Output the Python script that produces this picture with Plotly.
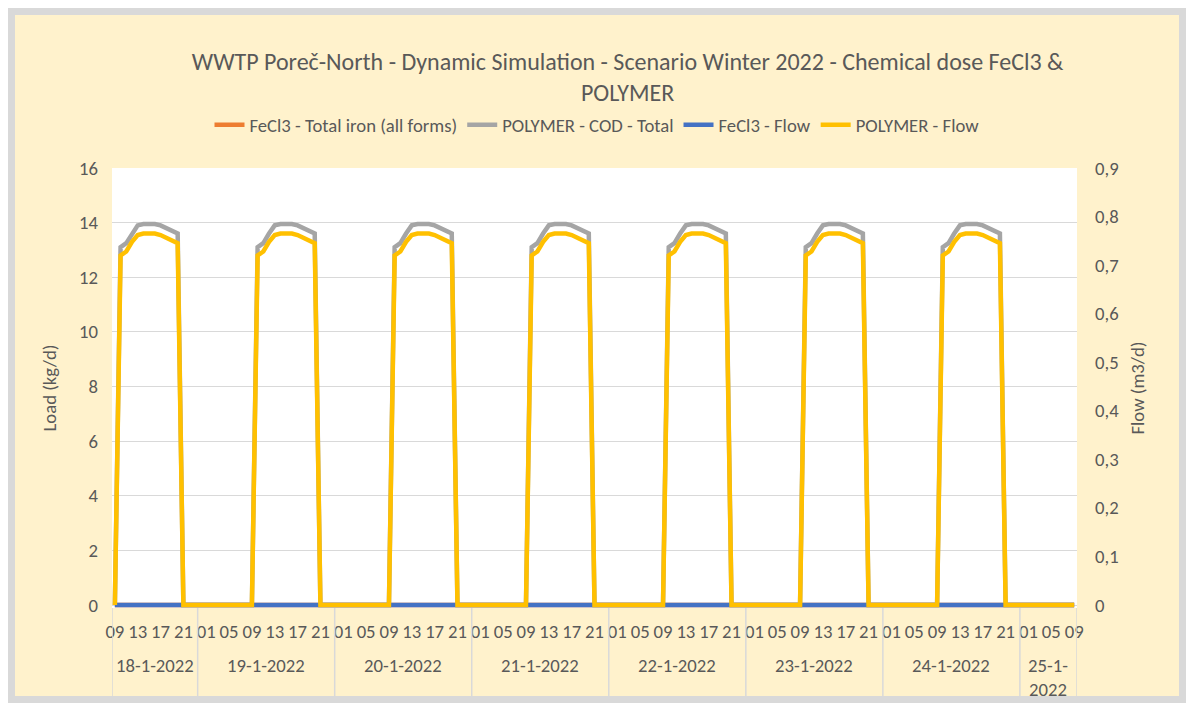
import pandas as pd
import plotly.graph_objects as go

# hourly simulation output, 18-1-2022 09:00 .. 25-1-2022 09:00
time = pd.date_range("2022-01-18 09:00", "2022-01-25 09:00", freq="h")
categories = [t.strftime("%Y-%m-%d %H:%M") for t in time]

# one row per day, starting at 09:00 (last value = 25-1-2022 09:00)
fecl3_iron = [  # FeCl3 - Total iron (all forms), kg/d
    0, 0, 0, 0, 0, 0, 0, 0, 0, 0, 0, 0, 0, 0, 0, 0, 0, 0, 0, 0, 0, 0, 0, 0,
    0, 0, 0, 0, 0, 0, 0, 0, 0, 0, 0, 0, 0, 0, 0, 0, 0, 0, 0, 0, 0, 0, 0, 0,
    0, 0, 0, 0, 0, 0, 0, 0, 0, 0, 0, 0, 0, 0, 0, 0, 0, 0, 0, 0, 0, 0, 0, 0,
    0, 0, 0, 0, 0, 0, 0, 0, 0, 0, 0, 0, 0, 0, 0, 0, 0, 0, 0, 0, 0, 0, 0, 0,
    0, 0, 0, 0, 0, 0, 0, 0, 0, 0, 0, 0, 0, 0, 0, 0, 0, 0, 0, 0, 0, 0, 0, 0,
    0, 0, 0, 0, 0, 0, 0, 0, 0, 0, 0, 0, 0, 0, 0, 0, 0, 0, 0, 0, 0, 0, 0, 0,
    0, 0, 0, 0, 0, 0, 0, 0, 0, 0, 0, 0, 0, 0, 0, 0, 0, 0, 0, 0, 0, 0, 0, 0,
    0,
]
polymer_cod = [  # POLYMER - COD - Total, kg/d
    0, 13.1, 13.25, 13.6, 13.9, 13.95, 13.95, 13.95, 13.9, 13.8, 13.7, 13.6, 0, 0, 0, 0, 0, 0, 0, 0, 0, 0, 0, 0,
    0, 13.1, 13.25, 13.6, 13.9, 13.95, 13.95, 13.95, 13.9, 13.8, 13.7, 13.6, 0, 0, 0, 0, 0, 0, 0, 0, 0, 0, 0, 0,
    0, 13.1, 13.25, 13.6, 13.9, 13.95, 13.95, 13.95, 13.9, 13.8, 13.7, 13.6, 0, 0, 0, 0, 0, 0, 0, 0, 0, 0, 0, 0,
    0, 13.1, 13.25, 13.6, 13.9, 13.95, 13.95, 13.95, 13.9, 13.8, 13.7, 13.6, 0, 0, 0, 0, 0, 0, 0, 0, 0, 0, 0, 0,
    0, 13.1, 13.25, 13.6, 13.9, 13.95, 13.95, 13.95, 13.9, 13.8, 13.7, 13.6, 0, 0, 0, 0, 0, 0, 0, 0, 0, 0, 0, 0,
    0, 13.1, 13.25, 13.6, 13.9, 13.95, 13.95, 13.95, 13.9, 13.8, 13.7, 13.6, 0, 0, 0, 0, 0, 0, 0, 0, 0, 0, 0, 0,
    0, 13.1, 13.25, 13.6, 13.9, 13.95, 13.95, 13.95, 13.9, 13.8, 13.7, 13.6, 0, 0, 0, 0, 0, 0, 0, 0, 0, 0, 0, 0,
    0,
]
fecl3_flow = [  # FeCl3 - Flow, m3/d
    0, 0, 0, 0, 0, 0, 0, 0, 0, 0, 0, 0, 0, 0, 0, 0, 0, 0, 0, 0, 0, 0, 0, 0,
    0, 0, 0, 0, 0, 0, 0, 0, 0, 0, 0, 0, 0, 0, 0, 0, 0, 0, 0, 0, 0, 0, 0, 0,
    0, 0, 0, 0, 0, 0, 0, 0, 0, 0, 0, 0, 0, 0, 0, 0, 0, 0, 0, 0, 0, 0, 0, 0,
    0, 0, 0, 0, 0, 0, 0, 0, 0, 0, 0, 0, 0, 0, 0, 0, 0, 0, 0, 0, 0, 0, 0, 0,
    0, 0, 0, 0, 0, 0, 0, 0, 0, 0, 0, 0, 0, 0, 0, 0, 0, 0, 0, 0, 0, 0, 0, 0,
    0, 0, 0, 0, 0, 0, 0, 0, 0, 0, 0, 0, 0, 0, 0, 0, 0, 0, 0, 0, 0, 0, 0, 0,
    0, 0, 0, 0, 0, 0, 0, 0, 0, 0, 0, 0, 0, 0, 0, 0, 0, 0, 0, 0, 0, 0, 0, 0,
    0,
]
polymer_flow = [  # POLYMER - Flow, m3/d
    0, 0.72, 0.728, 0.748, 0.762, 0.765, 0.765, 0.765, 0.762, 0.757, 0.751, 0.745, 0, 0, 0, 0, 0, 0, 0, 0, 0, 0, 0, 0,
    0, 0.72, 0.728, 0.748, 0.762, 0.765, 0.765, 0.765, 0.762, 0.757, 0.751, 0.745, 0, 0, 0, 0, 0, 0, 0, 0, 0, 0, 0, 0,
    0, 0.72, 0.728, 0.748, 0.762, 0.765, 0.765, 0.765, 0.762, 0.757, 0.751, 0.745, 0, 0, 0, 0, 0, 0, 0, 0, 0, 0, 0, 0,
    0, 0.72, 0.728, 0.748, 0.762, 0.765, 0.765, 0.765, 0.762, 0.757, 0.751, 0.745, 0, 0, 0, 0, 0, 0, 0, 0, 0, 0, 0, 0,
    0, 0.72, 0.728, 0.748, 0.762, 0.765, 0.765, 0.765, 0.762, 0.757, 0.751, 0.745, 0, 0, 0, 0, 0, 0, 0, 0, 0, 0, 0, 0,
    0, 0.72, 0.728, 0.748, 0.762, 0.765, 0.765, 0.765, 0.762, 0.757, 0.751, 0.745, 0, 0, 0, 0, 0, 0, 0, 0, 0, 0, 0, 0,
    0, 0.72, 0.728, 0.748, 0.762, 0.765, 0.765, 0.765, 0.762, 0.757, 0.751, 0.745, 0, 0, 0, 0, 0, 0, 0, 0, 0, 0, 0, 0,
    0,
]

date_labels = ["18-1-2022", "19-1-2022", "20-1-2022", "21-1-2022",
               "22-1-2022", "23-1-2022", "24-1-2022", "25-1-<br>2022"]

W, H = 1178, 695
ML, MR, MT, MB = 104, 109, 160, 95
FONT = "Calibri, Carlito, Lato, sans-serif"
FS = 18.7
GREY_TXT = "#595959"
GRID = "#D9D9D9"

fig = go.Figure()
fig.add_trace(go.Scatter(x=categories, y=fecl3_iron, name="FeCl3 - Total iron (all forms)",
                         mode="lines", line=dict(color="#ED7D31", width=4.5)))
fig.add_trace(go.Scatter(x=categories, y=polymer_cod, name="POLYMER - COD - Total",
                         mode="lines", line=dict(color="#A5A5A5", width=4.5)))
fig.add_trace(go.Scatter(x=categories, y=fecl3_flow, name="FeCl3 - Flow", yaxis="y2",
                         mode="lines", line=dict(color="#4472C4", width=4.5)))
fig.add_trace(go.Scatter(x=categories, y=polymer_flow, name="POLYMER - Flow", yaxis="y2",
                         mode="lines", line=dict(color="#FFC000", width=4.5)))

# hour labels every 4 hours
tickvals = categories[::4]
ticktext = [t.strftime("%H") for t in time[::4]]

# day groups: separators and centred date labels
days = [t.date() for t in time]
starts = [i for i in range(len(days)) if i == 0 or days[i] != days[i - 1]]
ends = starts[1:] + [len(days)]

shapes = []
for s in starts + [len(days)]:
    shapes.append(dict(type="line", xref="x", yref="paper", x0=s - 0.5, x1=s - 0.5,
                       ysizemode="pixel", yanchor=0, y0=0, y1=-94,
                       line=dict(color=GRID, width=1.5)))
# chart area border
shapes.append(dict(type="rect", xref="paper", yref="paper",
                   xsizemode="pixel", xanchor=0, x0=-ML + 3.5, x1=W - ML - 3.5,
                   ysizemode="pixel", yanchor=0, y0=-MB + 3.5, y1=H - MB - 3.5,
                   line=dict(color=GRID, width=7), layer="above"))

annotations = []
for lab, s, e in zip(date_labels, starts, ends):
    annotations.append(dict(text=lab, xref="x", yref="paper", x=(s + e - 1) / 2, y=0,
                            yanchor="top", yshift=-44, showarrow=False,
                            font=dict(size=FS, color=GREY_TXT, family=FONT)))

fig.update_layout(
    width=W, height=H,
    margin=dict(l=ML, r=MR, t=MT, b=MB),
    paper_bgcolor="#FFF2CC", plot_bgcolor="white",
    separators=",.",
    font=dict(family=FONT, size=FS, color=GREY_TXT),
    title=dict(text="WWTP Poreč-North - Dynamic Simulation - Scenario Winter 2022 - Chemical dose FeCl3 &<br>POLYMER",
               x=0.526, xanchor="center", y=1 - 62 / H, yanchor="top", yref="container",
               font=dict(size=24, color=GREY_TXT, family=FONT)),
    legend=dict(orientation="h", x=0.5, xanchor="center", xref="container",
                y=1 - 117 / H, yanchor="middle", yref="container",
                font=dict(size=FS, color=GREY_TXT), bgcolor="rgba(0,0,0,0)"),
    xaxis=dict(type="category", range=[-0.5, len(categories) - 0.5],
               tickvals=tickvals, ticktext=ticktext, tickangle=0,
               showgrid=False, zeroline=False, showline=False, ticks="",
               ticklabelstandoff=10, tickfont=dict(size=FS, color=GREY_TXT)),
    yaxis=dict(range=[-0.11, 16], tickvals=list(range(0, 17, 2)),
               showgrid=True, gridcolor=GRID, gridwidth=1,
               zeroline=True, zerolinecolor=GRID, zerolinewidth=1,
               showline=False, ticks="", ticklabelstandoff=13,
               title=dict(text="Load (kg/d)", standoff=17, font=dict(size=FS, color=GREY_TXT))),
    yaxis2=dict(range=[-0.11 * 0.9 / 16, 0.9], tickvals=[i / 10 for i in range(10)],
                overlaying="y", side="right", showgrid=False, zeroline=False,
                showline=False, ticks="", ticklabelstandoff=17,
                title=dict(text="Flow (m3/d)", standoff=12, font=dict(size=FS, color=GREY_TXT))),
    shapes=shapes, annotations=annotations,
)

fig.write_html("out.html")
